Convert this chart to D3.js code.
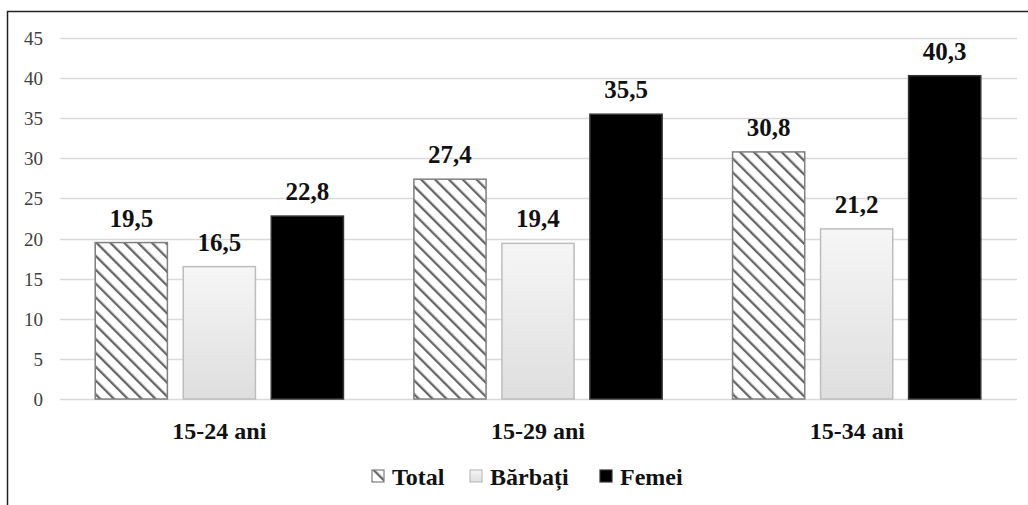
<!DOCTYPE html>
<html><head><meta charset="utf-8"><script src="https://cdn.jsdelivr.net/npm/d3@7"></script></head>
<body style="margin:0">
<svg id="chart" width="1028" height="505"></svg>
<script>
const categories = ["15-24 ani", "15-29 ani", "15-34 ani"];
const seriesNames = ["Total", "Bărbați", "Femei"];
const totalValues = [19.5, 27.4, 30.8];
const barbatiValues = [16.5, 19.4, 21.2];
const femeiValues = [22.8, 35.5, 40.3];
const yTicks = [0, 5, 10, 15, 20, 25, 30, 35, 40, 45];

const seriesValues = [totalValues, barbatiValues, femeiValues];
const fmt = v => d3.format(".1f")(v).replace(".", ",");
const FONT = "'Liberation Serif'";

const svg = d3.select("#chart").style("display", "block");
const defs = svg.append("defs");

// hatch pattern (backslash direction)
const pat = defs.append("pattern").attr("id", "hatch")
  .attr("patternUnits", "userSpaceOnUse").attr("width", 9.8).attr("height", 9.8)
  .attr("patternTransform", "rotate(-45)");
pat.append("rect").attr("width", 9.8).attr("height", 9.8).attr("fill", "#fff");
pat.append("line").attr("x1", 0).attr("y1", 0).attr("x2", 0).attr("y2", 9.8)
  .attr("stroke", "#666").attr("stroke-width", 4.6);

const grad = defs.append("linearGradient").attr("id", "gradB")
  .attr("x1", 0).attr("y1", 0).attr("x2", 0).attr("y2", 1);
grad.append("stop").attr("offset", "0%").attr("stop-color", "#f6f6f6");
grad.append("stop").attr("offset", "100%").attr("stop-color", "#dedede");

// border
svg.append("rect").attr("x", 7.5).attr("y", 11.5).attr("width", 1040).attr("height", 520)
  .attr("fill", "none").attr("stroke", "#222").attr("stroke-width", 1.5);

const y = d3.scaleLinear().domain([0, 45]).range([399, 38]);
const x0 = d3.scaleBand().domain(categories).range([60, 1016]).paddingInner(0).paddingOuter(0);
const x1 = d3.scaleBand().domain(seriesNames).range([0, x0.bandwidth()])
  .paddingInner(0.18).paddingOuter(0.4);

// grid
svg.append("g").selectAll("line").data(yTicks).join("line")
  .attr("x1", 60).attr("x2", 1017)
  .attr("y1", d => Math.round(y(d)) + 0.5).attr("y2", d => Math.round(y(d)) + 0.5)
  .attr("stroke", "#d9d9d9").attr("stroke-width", 1.5);

// y tick labels
svg.append("g").selectAll("text").data(yTicks).join("text")
  .attr("x", 43).attr("y", d => y(d) + 7)
  .attr("text-anchor", "end").attr("font-size", 19).attr("fill", "#404040")
  .style("font-family", FONT)
  .text(d => d);

const fills = ["url(#hatch)", "url(#gradB)", "#000"];
const strokes = ["#7f7f7f", "#bdbdbd", "#333"];

const groups = svg.append("g").selectAll("g").data(categories).join("g")
  .attr("transform", d => `translate(${x0(d)},0)`);

groups.each(function(cat, ci) {
  const g = d3.select(this);
  seriesNames.forEach((s, si) => {
    const v = seriesValues[si][ci];
    g.append("rect")
      .attr("x", x1(s)).attr("y", y(v))
      .attr("width", x1.bandwidth()).attr("height", y(0) - y(v))
      .attr("fill", fills[si]).attr("stroke", strokes[si]).attr("stroke-width", 1.5);
    g.append("text")
      .attr("x", x1(s) + x1.bandwidth() / 2).attr("y", y(v) - 16)
      .attr("text-anchor", "middle").attr("font-size", 25).attr("font-weight", "bold")
      .style("font-family", FONT)
      .attr("fill", "#111").text(fmt(v));
  });
});

// category labels
svg.append("g").selectAll("text").data(categories).join("text")
  .attr("x", d => x0(d) + x0.bandwidth() / 2).attr("y", 439)
  .attr("text-anchor", "middle").attr("font-size", 24).attr("font-weight", "bold")
  .style("font-family", FONT)
  .attr("fill", "#111").text(d => d);

// legend
const legendX = [372, 470, 600];
const leg = svg.append("g").selectAll("g").data(seriesNames).join("g")
  .attr("transform", (d, i) => `translate(${legendX[i]},470)`);
leg.append("rect").attr("x", 0).attr("y", 0).attr("width", 12).attr("height", 12)
  .attr("fill", (d, i) => i === 0 ? "url(#hatch)" : fills[i])
  .attr("stroke", (d, i) => strokes[i]).attr("stroke-width", 1.2);
leg.append("text").attr("x", 20).attr("y", 15)
  .attr("font-size", 24).attr("font-weight", "bold").attr("fill", "#111")
  .style("font-family", FONT)
  .text(d => d);
</script>
</body>
</html>
